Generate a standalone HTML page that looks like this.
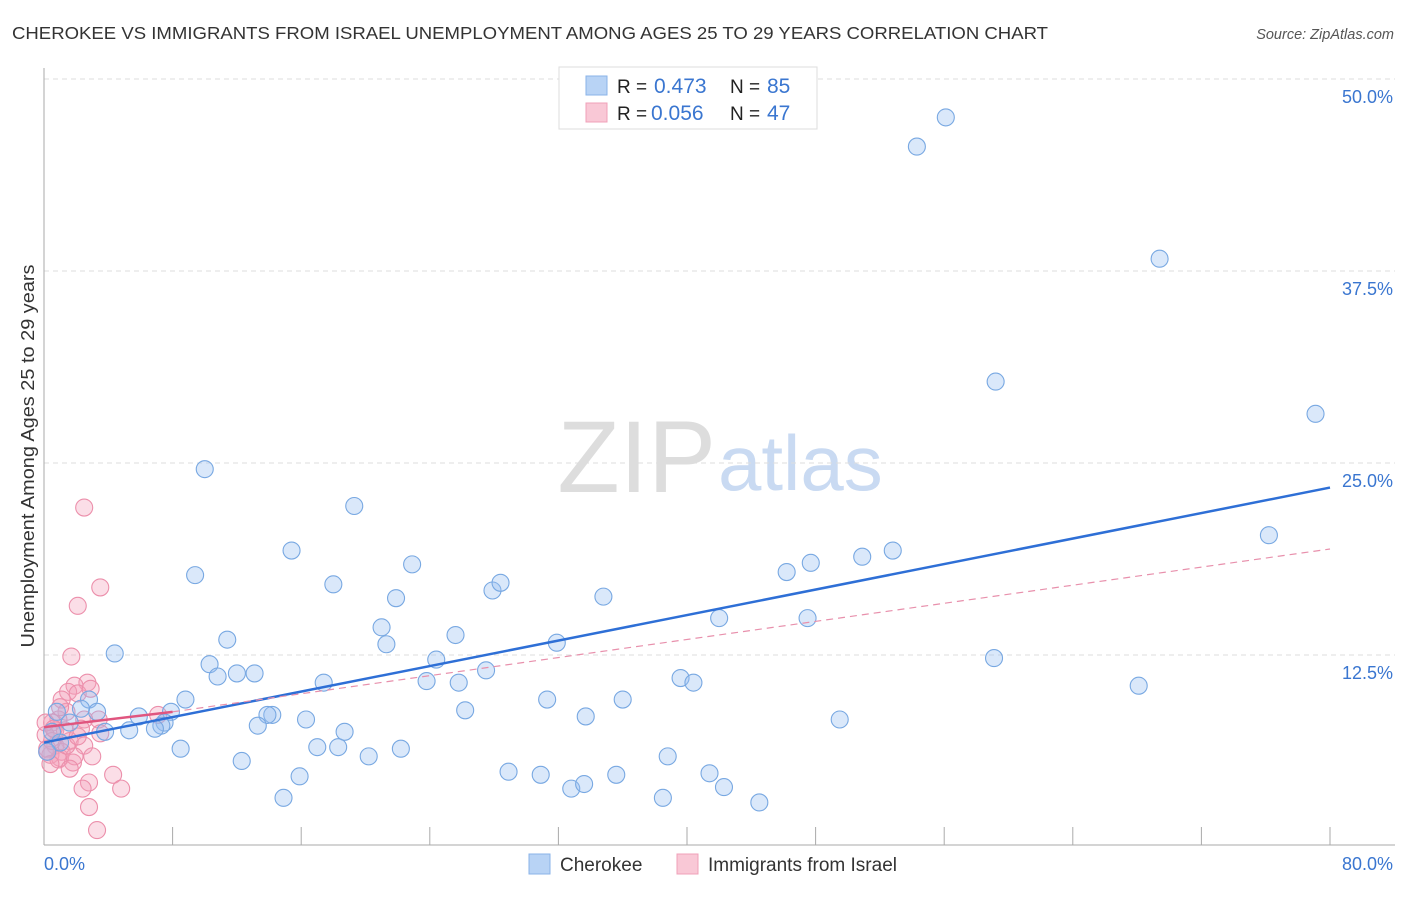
<!DOCTYPE html>
<html><head><meta charset="utf-8"><style>
body{margin:0;background:#fff;font-family:"Liberation Sans",sans-serif;}
svg text{font-family:"Liberation Sans",sans-serif;}
</style></head><body>
<svg id="chart" width="1406" height="892" xmlns="http://www.w3.org/2000/svg">
<text x="12" y="39" font-size="17.5" fill="#333" textLength="1036" lengthAdjust="spacingAndGlyphs">CHEROKEE VS IMMIGRANTS FROM ISRAEL UNEMPLOYMENT AMONG AGES 25 TO 29 YEARS CORRELATION CHART</text>
<text x="1394" y="39" font-size="14.5" fill="#555" font-style="italic" text-anchor="end">Source: ZipAtlas.com</text>
<text x="716" y="492" font-size="102" fill="#ddd" text-anchor="end" font-family="Liberation Serif">ZIP</text>
<text x="718" y="490" font-size="78" fill="#c9daf2">atlas</text>
<g id="grid"></g>
<g id="axes"></g>
<g id="pts"></g>
<g id="lines"></g>
<text transform="translate(34,456) rotate(-90)" font-size="18" fill="#333" text-anchor="middle" textLength="383" lengthAdjust="spacingAndGlyphs">Unemployment Among Ages 25 to 29 years</text>
<g>
<rect x="559" y="67" width="258" height="62" fill="#fff" stroke="#ddd"/>
<rect x="586" y="76" width="21" height="19" fill="#b8d3f5" stroke="#8ab3e8"/>
<rect x="586" y="103" width="21" height="19" fill="#f9c8d6" stroke="#f0a0b8"/>
<text x="617" y="93" font-size="19" fill="#222">R =</text>
<text x="654" y="93" font-size="21" fill="#3a76d0">0.473</text>
<text x="730" y="93" font-size="19" fill="#222">N =</text>
<text x="767" y="93" font-size="21" fill="#3a76d0">85</text>
<text x="617" y="120" font-size="19" fill="#222">R =</text>
<text x="651" y="120" font-size="21" fill="#3a76d0">0.056</text>
<text x="730" y="120" font-size="19" fill="#222">N =</text>
<text x="767" y="120" font-size="21" fill="#3a76d0">47</text>
</g>
<g>
<rect x="529" y="854" width="21" height="20" fill="#b8d3f5" stroke="#8ab3e8"/>
<text x="560" y="871" font-size="19" fill="#333">Cherokee</text>
<rect x="677" y="854" width="21" height="20" fill="#f9c8d6" stroke="#f0a0b8"/>
<text x="708" y="871" font-size="19" fill="#333">Immigrants from Israel</text>
</g>
</svg>
<script>
const yTicks=[12.5,25,37.5,50];
const yTickLabels=["12.5%","25.0%","37.5%","50.0%"];
const xTickValues=[0,8,16,24,32,40,48,56,64,72,80];
const blueX=[10,19.3,54.3,56.1,69.4,59.2,79.1,76.2,15.4,22.9,9.4,18,27.9,28.4,21.9,34.8,50.9,52.8,47.7,46.2,42,47.5,21,25.6,31.9,21.3,11.4,4.4,10.3,24.4,59.1,10.8,12,13.1,17.4,23.8,25.8,27.5,39.6,40.4,68.1,8.8,31.3,36,2.8,7.9,26.2,3.3,2.3,14.2,13.9,5.9,7.5,16.3,33.7,49.5,13.3,18.7,3.8,5.3,7.3,6.9,8.5,17,18.3,22.2,12.3,20.2,38.8,15.9,28.9,30.9,35.6,41.4,32.8,33.6,42.3,14.9,38.5,44.5,0.8,0.5,1,1.6,0.2];
const blueY=[24.6,22.2,45.6,47.5,38.3,30.3,28.2,20.3,19.3,18.4,17.7,17.1,16.7,17.2,16.2,16.3,18.9,19.3,18.5,17.9,14.9,14.9,14.3,13.8,13.3,13.2,13.5,12.6,11.9,12.2,12.3,11.1,11.3,11.3,10.7,10.8,10.7,11.5,11,10.7,10.5,9.6,9.6,9.6,9.6,8.8,8.9,8.8,9,8.6,8.6,8.5,8.1,8.3,8.5,8.3,7.9,7.5,7.5,7.6,7.9,7.7,6.4,6.5,6.5,6.4,5.6,5.9,5.9,4.6,4.9,4.7,4.7,4.8,3.8,4.1,3.9,3.2,3.2,2.9,8.8,7.5,6.8,8.1,6.2];
const pinkX=[2.5,3.5,2.1,1.7,2.7,1.9,1.5,2.1,1.1,3.4,2.5,1.4,0.9,0.5,2.3,3.5,1.6,0.7,1.1,0.4,1,1.8,0.9,0.2,2.5,3,1.9,4.3,2.8,4.8,2.4,2.8,3.3,7.1,0.7,0.1,1.3,0.4,1.6,0.1,1,2.9,0.5,1.4,2.1,0.6,0.2];
const pinkY=[22.1,16.9,15.7,12.4,10.7,10.5,10.1,10,9.6,8.3,8.3,8.8,8.3,8.1,7.7,7.4,6.9,6.6,6.2,6,5.8,5.5,5.7,6.4,6.6,5.9,5.9,4.7,4.2,3.8,3.8,2.6,1.1,8.6,7.6,7.3,7.6,5.4,5.1,8.1,9.1,10.3,6.9,6.6,7.2,7.7,6.2];
const blueLine=[[0,6.8],[80,23.4]];
const pinkLine=[[0,7.8],[8,8.8]];
const pinkDash=[[8,8.8],[80,19.4]];
const X=v=>44+v/80*1286, Y=v=>847-v/50*768;
const NS="http://www.w3.org/2000/svg";
function mk(tag,attrs,parent){const e=document.createElementNS(NS,tag);for(const k in attrs)e.setAttribute(k,attrs[k]);document.getElementById(parent).appendChild(e);return e;}
yTicks.forEach((t,i)=>{
 const g=mk('line',{x1:44,x2:1395,y1:Y(t),y2:Y(t),stroke:'#ddd','stroke-dasharray':'5,4'},'grid');
 
 
 const tx=mk('text',{x:1393,y:Y(t)+24,'font-size':18,fill:'#3a76d0','text-anchor':'end'},'grid');
 tx.textContent=yTickLabels[i];
 
 
});
const ax=mk('line',{x1:44,x2:1395,y1:845,y2:845,stroke:'#aaa'},'axes');


const ay=mk('line',{x1:44,x2:44,y1:68,y2:845,stroke:'#aaa'},'axes');


xTickValues.forEach(v=>{const t=mk('line',{x1:X(v),x2:X(v),y1:827,y2:845,stroke:'#aaa'},'axes');
 
 });
const l0=mk('text',{x:44,y:870,'font-size':18,fill:'#3a76d0'},'axes');l0.textContent='0.0%';


const l1=mk('text',{x:1393,y:870,'font-size':18,fill:'#3a76d0','text-anchor':'end'},'axes');l1.textContent='80.0%';


pinkX.forEach((x,i)=>{const c=mk('circle',{cx:X(x),cy:Y(pinkY[i]),r:8.5,fill:'rgba(244,160,186,0.35)',stroke:'#ec8fab','stroke-width':1.1},'pts');
 
 });
blueX.forEach((x,i)=>{const c=mk('circle',{cx:X(x),cy:Y(blueY[i]),r:8.5,fill:'rgba(150,188,240,0.35)',stroke:'#78a8e2','stroke-width':1.1},'pts');
 
 });
const bl=mk('line',{x1:X(blueLine[0][0]),y1:Y(blueLine[0][1]),x2:X(blueLine[1][0]),y2:Y(blueLine[1][1]),stroke:'#2e6fd6','stroke-width':2.5},'lines');


const pd=mk('line',{x1:X(pinkDash[0][0]),y1:Y(pinkDash[0][1]),x2:X(pinkDash[1][0]),y2:Y(pinkDash[1][1]),stroke:'#e890ac','stroke-width':1.2,'stroke-dasharray':'7,5'},'lines');


const pl=mk('line',{x1:X(pinkLine[0][0]),y1:Y(pinkLine[0][1]),x2:X(pinkLine[1][0]),y2:Y(pinkLine[1][1]),stroke:'#e0557f','stroke-width':2.5},'lines');


</script>
</body></html>
